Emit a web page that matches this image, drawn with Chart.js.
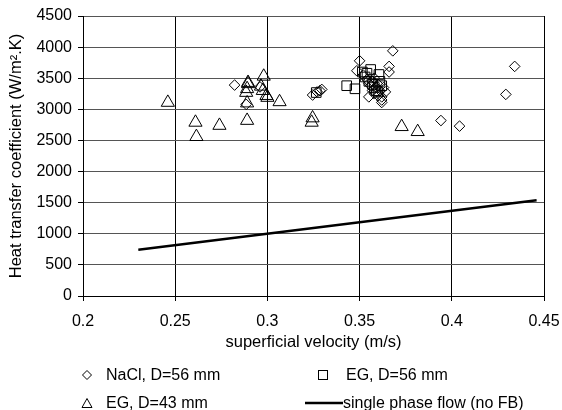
<!DOCTYPE html>
<html>
<head>
<meta charset="utf-8">
<script src="https://cdn.jsdelivr.net/npm/chart.js@4/dist/chart.umd.min.js"></script>
<style>
  html, body { margin: 0; padding: 0; background: #fff; }
  #wrap { position: relative; width: 562px; height: 410px; font-family: "Liberation Sans", Arial, sans-serif; }
  canvas { position: absolute; left: 0; top: 0; }
  .lg { position: absolute; font-size: 16px; color: #000; line-height: 20px; white-space: nowrap; }
  .mk { position: absolute; }
</style>
</head>
<body>
<div id="wrap">
  <canvas id="c" width="562" height="410"></canvas>
  <svg class="mk" style="left:81px;top:369px" width="12" height="12"><polygon points="6,1.5 10.5,6 6,10.5 1.5,6" fill="none" stroke="#000" stroke-width="1"/></svg>
  <div class="lg" style="left:106px;top:365px">NaCl, D=56 mm</div>
  <svg class="mk" style="left:317px;top:369px" width="12" height="12"><rect x="1.5" y="1.5" width="9" height="9" fill="none" stroke="#000" stroke-width="1"/></svg>
  <div class="lg" style="left:346px;top:365px">EG, D=56 mm</div>
  <svg class="mk" style="left:80px;top:397px" width="14" height="12"><polygon points="7,1.5 12,10.5 2,10.5" fill="none" stroke="#000" stroke-width="1"/></svg>
  <div class="lg" style="left:106px;top:393px">EG, D=43 mm</div>
  <svg class="mk" style="left:305px;top:401px" width="38" height="4"><line x1="0" y1="2" x2="38" y2="2" stroke="#000" stroke-width="2.5"/></svg>
  <div class="lg" style="left:343px;top:393px">single phase flow (no FB)</div>
</div>
<script>
// X tick labels / axis ranges
const xTicks = [0.2, 0.25, 0.3, 0.35, 0.4, 0.45];
const yTicks = [0, 500, 1000, 1500, 2000, 2500, 3000, 3500, 4000, 4500];

// NaCl, D=56 mm (diamonds)
const naclX = [0.2822, 0.2885, 0.296, 0.3245, 0.327, 0.3285, 0.3295, 0.350, 0.3485, 0.368, 0.366, 0.366,
               0.352, 0.354, 0.355, 0.356, 0.357, 0.358, 0.359, 0.360, 0.361, 0.362, 0.362, 0.362,
               0.363, 0.364, 0.355, 0.357, 0.360, 0.358, 0.3941, 0.4042, 0.4341, 0.4293];
const naclY = [3390, 3080, 3360, 3230, 3280, 3300, 3320, 3780, 3620, 3940, 3690, 3600,
               3550, 3480, 3420, 3380, 3300, 3250, 3350, 3400, 3300, 3200, 3110, 3150,
               3350, 3280, 3200, 3450, 3220, 3500, 2820, 2730, 3690, 3240];

// EG, D=56 mm (squares)
const eg56X = [0.3265, 0.343, 0.3475, 0.3515, 0.356, 0.3605, 0.353, 0.355, 0.357, 0.358, 0.359, 0.361, 0.362, 0.360, 0.354];
const eg56Y = [3270, 3380, 3330, 3600, 3640, 3560, 3520, 3450, 3400, 3350, 3300, 3450, 3380, 3280, 3580];

// EG, D=43 mm (triangles)
const eg43X = [0.246, 0.261, 0.2615, 0.274, 0.289, 0.289, 0.2895, 0.2895, 0.289, 0.2885, 0.2965, 0.298,
               0.2975, 0.2995, 0.300, 0.3066, 0.324, 0.3245, 0.3728, 0.3815];
const eg43Y = [3110, 2790, 2560, 2740, 2820, 3100, 3410, 3430, 3330, 3270, 3370, 3530,
               3300, 3220, 3190, 3120, 2790, 2860, 2720, 2640];

// single phase flow (no FB)
const spX = [0.23, 0.446];
const spY = [745, 1540];

const pts = (xs, ys) => xs.map((x, i) => ({ x: x, y: ys[i] }));
const FONT = "'Liberation Sans', Arial, sans-serif";

new Chart(document.getElementById('c'), {
  type: 'scatter',
  data: {
    datasets: [
      { label: 'single phase flow (no FB)', data: pts(spX, spY), showLine: true, borderColor: '#000',
        borderWidth: 2.5, pointRadius: 0, fill: false },
      { label: 'NaCl, D=56 mm', data: pts(naclX, naclY), pointStyle: 'rectRot', pointRadius: 5.3,
        borderColor: '#000', backgroundColor: 'rgba(0,0,0,0)', pointBorderWidth: 1 },
      { label: 'EG, D=56 mm', data: pts(eg56X, eg56Y), pointStyle: 'rect', pointRadius: 6.8,
        borderColor: '#000', backgroundColor: 'rgba(0,0,0,0)', pointBorderWidth: 1 },
      { label: 'EG, D=43 mm', data: pts(eg43X, eg43Y), pointStyle: 'triangle', pointRadius: 7.6,
        borderColor: '#000', backgroundColor: 'rgba(0,0,0,0)', pointBorderWidth: 1 }
    ]
  },
  options: {
    responsive: false,
    animation: false,
    layout: { padding: { left: 0, right: 18, top: 16, bottom: 58 } },
    plugins: { legend: { display: false }, tooltip: { enabled: false } },
    scales: {
      x: {
        type: 'linear', min: 0.2, max: 0.45,
        afterBuildTicks: s => { s.ticks = xTicks.map(v => ({ value: v })); },
        afterFit: s => { s.height = 56; s.paddingLeft = 0; s.paddingRight = 0; },
        grid: { color: '#000', lineWidth: 1, tickLength: 5, tickColor: '#000' },
        border: { color: '#000', width: 1 },
        ticks: { color: '#000', font: { family: FONT, size: 16 }, padding: 11, maxRotation: 0,
                 callback: v => String(v) },
        title: { display: true, text: 'superficial velocity (m/s)', color: '#000',
                 font: { family: FONT, size: 16.5 }, padding: { top: 0, bottom: 0 } }
      },
      y: {
        type: 'linear', min: 0, max: 4500,
        afterBuildTicks: s => { s.ticks = yTicks.map(v => ({ value: v })); },
        afterFit: s => { s.width = 83; s.paddingTop = 0; s.paddingBottom = 0; },
        grid: { color: '#555', lineWidth: 1, tickLength: 5, tickColor: '#000' },
        border: { color: '#000', width: 1 },
        ticks: { color: '#000', font: { family: FONT, size: 16 }, padding: 6, callback: v => String(v) },
        title: { display: true, text: 'Heat transfer coefficient (W/m\u00B2.K)', color: '#000',
                 font: { family: FONT, size: 16.5 }, padding: { top: 7, bottom: 0 } }
      }
    }
  }
});
</script>
</body>
</html>
